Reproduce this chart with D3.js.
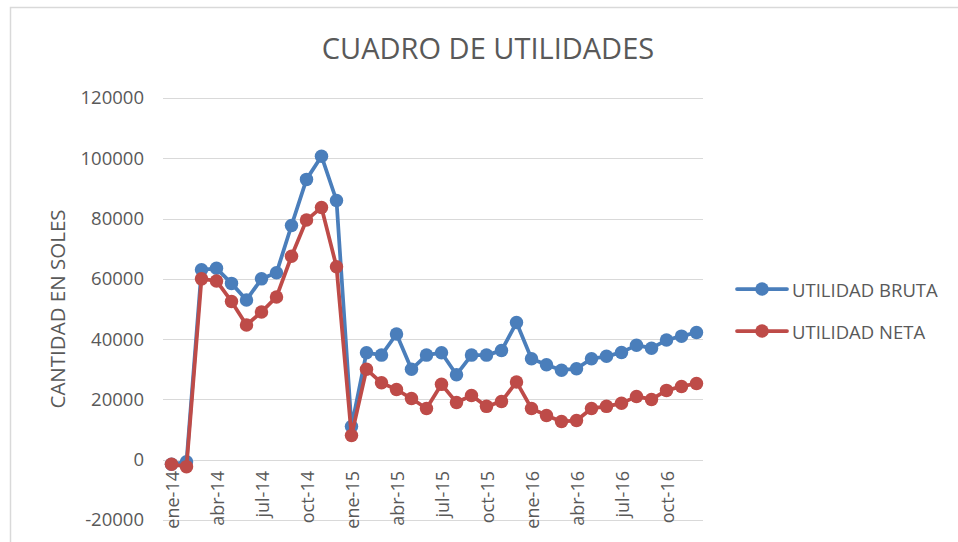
<!DOCTYPE html>
<html>
<head>
<meta charset="utf-8">
<script src="https://cdn.jsdelivr.net/npm/d3@7"></script>
<style>
html,body{margin:0;padding:0;background:#fff;}
svg{display:block;font-family:"Open Sans",sans-serif;}
</style>
</head>
<body>
<svg id="chart" width="958" height="542"></svg>
<script>
const months = ["ene-14","feb-14","mar-14","abr-14","may-14","jun-14","jul-14","ago-14","sep-14","oct-14","nov-14","dic-14",
"ene-15","feb-15","mar-15","abr-15","may-15","jun-15","jul-15","ago-15","sep-15","oct-15","nov-15","dic-15",
"ene-16","feb-16","mar-16","abr-16","may-16","jun-16","jul-16","ago-16","sep-16","oct-16","nov-16","dic-16"];
const utilidadBruta = [-1500,-700,63000,63500,58500,53000,60000,62000,77700,93000,100700,86000,
11000,35500,34700,41700,30000,34700,35500,28200,34700,34700,36200,45500,
33500,31500,29700,30200,33500,34300,35600,38000,37000,39700,41000,42200];
const utilidadNeta = [-1500,-2300,60000,59300,52500,44700,49000,54000,67500,79500,83700,64000,
8000,30000,25500,23300,20300,17000,25000,19000,21300,17700,19300,25800,
17000,14700,12700,13000,17000,17700,18700,21000,20000,23000,24300,25300];
const yTicks = [-20000,0,20000,40000,60000,80000,100000,120000];
const xTickLabels = ["ene-14","abr-14","jul-14","oct-14","ene-15","abr-15","jul-15","oct-15","ene-16","abr-16","jul-16","oct-16"];
const seriesNames = ["UTILIDAD BRUTA","UTILIDAD NETA"];
const colors = ["#4A7EBB","#BE4B48"];

const svg = d3.select("#chart");
// chart border
svg.append("rect").attr("x",10.5).attr("y",7.5).attr("width",960).attr("height",560)
  .attr("fill","#fff").attr("stroke","#d9d9d9").attr("stroke-width",1.5);

const x = d3.scalePoint().domain(months).range([164,704]).padding(0.5);
const y = d3.scaleLinear().domain([-20000,120000]).range([520,98]);

// gridlines
svg.append("g").selectAll("line").data(yTicks).join("line")
  .attr("x1",163).attr("x2",703)
  .attr("y1",d=>Math.round(y(d))+0.5).attr("y2",d=>Math.round(y(d))+0.5)
  .attr("stroke","#d9d9d9").attr("stroke-width",1);

// y axis labels
const yAxis = d3.axisLeft(y).tickValues(yTicks).tickSize(0).tickPadding(0).tickFormat(d=>String(d));
const yg = svg.append("g").attr("transform","translate(144,0)").call(yAxis);
yg.select(".domain").remove();
yg.selectAll("text").attr("font-size","18.5px").attr("fill","#595959").attr("font-family","Open Sans");

// x axis labels
const xAxis = d3.axisBottom(x).tickValues(xTickLabels).tickSize(0).tickPadding(0);
const xg = svg.append("g").attr("transform","translate(0,471)").call(xAxis);
xg.select(".domain").remove();
xg.selectAll(".tick text").attr("font-size","18px").attr("fill","#595959").attr("font-family","Open Sans")
  .attr("text-anchor","end").attr("dy",null)
  .attr("dominant-baseline","central")
  .attr("transform","rotate(-90)").attr("x",0).attr("y",0);

// title
svg.append("text").attr("x",488).attr("y",59).attr("text-anchor","middle")
  .attr("font-size","29px").attr("fill","#595959").text("CUADRO DE UTILIDADES");

// y title
svg.append("text").attr("transform","translate(57,309) rotate(-90)").attr("text-anchor","middle")
  .attr("dominant-baseline","central")
  .attr("font-size","20.5px").attr("fill","#595959").text("CANTIDAD EN SOLES");

const series = [utilidadBruta, utilidadNeta];
const line = d3.line().x((d,i)=>x(months[i])).y(d=>y(d));
series.forEach((s,k)=>{
  const g = svg.append("g");
  g.append("path").datum(s).attr("d",line).attr("fill","none")
    .attr("stroke",colors[k]).attr("stroke-width",3.75).attr("stroke-linejoin","round").attr("stroke-linecap","round");
  g.selectAll("circle").data(s).join("circle")
    .attr("cx",(d,i)=>x(months[i])).attr("cy",d=>y(d)).attr("r",6.75).attr("fill",colors[k]);
});

// legend
const legY = [289,331];
seriesNames.forEach((n,k)=>{
  const g = svg.append("g");
  g.append("line").attr("x1",737).attr("x2",787).attr("y1",legY[k]).attr("y2",legY[k])
    .attr("stroke",colors[k]).attr("stroke-width",3.75).attr("stroke-linecap","round");
  g.append("circle").attr("cx",762).attr("cy",legY[k]).attr("r",6.75).attr("fill",colors[k]);
  g.append("text").attr("x",792).attr("y",legY[k]).attr("dominant-baseline","central")
    .attr("font-size","18.5px").attr("fill","#595959").text(n);
});
</script>
</body>
</html>
